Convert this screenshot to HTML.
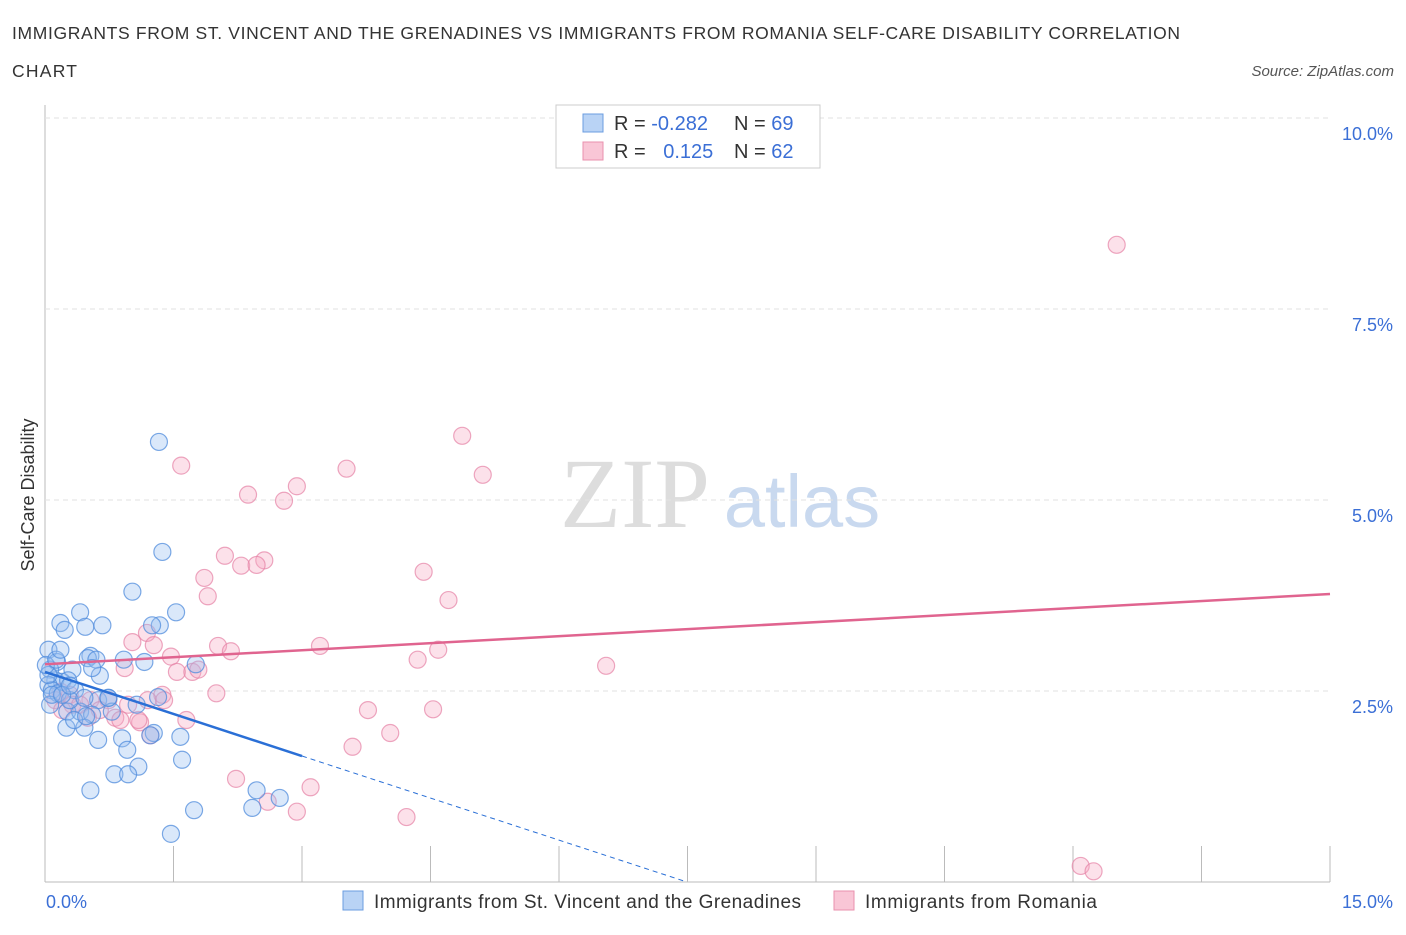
<!DOCTYPE html>
<html><head><meta charset="utf-8"><style>
body{margin:0;background:#fff;font-family:"Liberation Sans",sans-serif;}
svg text{font-family:"Liberation Sans",sans-serif;}
</style></head><body>
<svg id="chart" width="1406" height="930">
<text x="12" y="39" font-size="17.5" fill="#333" textLength="1168">IMMIGRANTS FROM ST. VINCENT AND THE GRENADINES VS IMMIGRANTS FROM ROMANIA SELF-CARE DISABILITY CORRELATION</text>
<text x="12" y="77" font-size="17.5" fill="#333" textLength="65">CHART</text>
<text x="1394" y="76" font-size="15" fill="#555" font-style="italic" text-anchor="end">Source: ZipAtlas.com</text>
<text x="635" y="527" font-size="100" fill="#ddd" style="font-family:'Liberation Serif',serif" text-anchor="middle">ZIP</text>
<text x="802" y="527" font-size="74" fill="#c9d9ef" text-anchor="middle">atlas</text>
<text x="34" y="495" font-size="18" fill="#333" text-anchor="middle" transform="rotate(-90 34 495)">Self-Care Disability</text>
<g id="grid"></g><g id="marks"></g>
<g>
<rect x="556" y="105" width="264" height="63" fill="#fff" stroke="#ccc"/>
<rect x="583" y="114" width="20" height="18" fill="#b9d3f5" stroke="#6b9de0"/>
<rect x="583" y="142" width="20" height="18" fill="#f9c6d6" stroke="#e990ae"/>
<text x="614" y="130" font-size="20" fill="#333">R = <tspan fill="#3b6fd6">-0.282</tspan></text>
<text x="734" y="130" font-size="20" fill="#333">N = <tspan fill="#3b6fd6">69</tspan></text>
<text x="614" y="158" font-size="20" fill="#333">R = <tspan fill="#3b6fd6" dx="12">0.125</tspan></text>
<text x="734" y="158" font-size="20" fill="#333">N = <tspan fill="#3b6fd6">62</tspan></text>
</g>
<g>
<rect x="343" y="891" width="20" height="19" fill="#b9d3f5" stroke="#6b9de0"/>
<text x="374" y="908" font-size="19" fill="#333" textLength="427">Immigrants from St. Vincent and the Grenadines</text>
<rect x="834" y="891" width="20" height="19" fill="#f9c6d6" stroke="#e990ae"/>
<text x="865" y="908" font-size="19" fill="#333" textLength="232">Immigrants from Romania</text>
</g>
</svg>
<script>
const yTicks=[2.5,5.0,7.5,10.0];
const xTickCount=10;
const blueX=[1.33,1.37,1.02,0.41,0.18,0.23,0.47,0.67,1.53,1.34,1.25,0.04,0.14,0.53,0.50,0.60,0.92,1.16,1.76,0.06,0.32,0.64,0.12,0.20,0.27,0.04,0.08,0.15,0.35,0.62,0.74,1.07,1.32,0.06,0.26,0.41,0.55,0.78,0.25,0.46,0.62,0.90,1.27,1.58,0.96,1.09,0.81,0.97,1.60,0.53,1.74,2.42,2.47,2.74,1.47,0.04,0.08,0.29,0.46,0.34,1.23,0.20,0.29,0.01,0.13,0.48,0.55,0.18,0.74];
const blueY=[5.76,4.32,3.80,3.53,3.39,3.30,3.34,3.36,3.53,3.36,3.36,3.04,2.88,2.96,2.93,2.91,2.91,2.88,2.85,2.78,2.78,2.70,2.64,2.62,2.64,2.58,2.51,2.47,2.51,2.38,2.41,2.32,2.42,2.32,2.23,2.23,2.19,2.23,2.02,2.02,1.86,1.88,1.95,1.90,1.73,1.51,1.41,1.41,1.60,1.20,0.94,0.97,1.20,1.10,0.63,2.71,2.45,2.38,2.41,2.12,1.92,2.45,2.57,2.84,2.91,2.17,2.80,3.04,2.41];
const pinkX=[12.51,4.87,1.59,3.52,5.11,2.37,2.94,2.79,2.10,2.56,2.29,2.47,1.86,4.42,1.90,4.71,1.19,1.02,1.27,2.02,2.17,3.21,4.59,1.47,0.93,1.54,1.72,1.79,4.35,6.55,1.37,2.00,0.74,0.53,0.29,0.18,0.12,0.32,0.97,1.20,1.39,0.64,0.82,1.11,1.65,3.77,4.53,1.09,0.88,4.03,3.59,1.23,2.23,3.10,2.60,2.94,4.22,12.09,12.24,0.20,0.41,0.50];
const pinkY=[8.34,5.84,5.45,5.41,5.33,5.07,5.18,4.99,4.27,4.21,4.14,4.15,3.98,4.06,3.74,3.69,3.26,3.14,3.10,3.09,3.02,3.09,3.04,2.95,2.80,2.75,2.75,2.78,2.91,2.83,2.45,2.47,2.38,2.38,2.45,2.49,2.38,2.32,2.32,2.38,2.38,2.25,2.15,2.09,2.12,2.25,2.26,2.12,2.12,1.95,1.77,1.92,1.35,1.24,1.05,0.92,0.85,0.21,0.14,2.25,2.32,2.15];
const blueTrend=[2.75,-0.367];
const pinkTrend=[2.85,0.0613];
const X=v=>45+v*(1285/15), Y=v=>882-v*76.4;
const NS='http://www.w3.org/2000/svg';
function mk(t,a,p){const e=document.createElementNS(NS,t);for(const k in a)e.setAttribute(k,a[k]);p.appendChild(e);return e;}
const g=document.getElementById('grid'), m=document.getElementById('marks');
mk('line',{x1:45,y1:105,x2:45,y2:882,stroke:'#bbb'},g);
mk('line',{x1:45,y1:882,x2:1330,y2:882,stroke:'#bbb'},g);
for(const t of yTicks){
 const l=mk('line',{x1:45,y1:Y(t),x2:1330,y2:Y(t),stroke:'#e2e2e2','stroke-dasharray':'5,4'},g);
 
 
 const tx=mk('text',{x:1393,y:Y(t)+22,'font-size':18,fill:'#3b6fd6','text-anchor':'end'},g);
 tx.textContent=t.toFixed(1)+'%';
 
 
}
for(let i=1;i<=xTickCount;i++){
 const xx=X(i*1.5);
 const l=mk('line',{x1:xx,y1:846,x2:xx,y2:882,stroke:'#bbb'},g);
 
 
}
const xl0=mk('text',{x:46,y:908,'font-size':18,fill:'#3b6fd6'},g);xl0.textContent='0.0%';


const xl1=mk('text',{x:1393,y:908,'font-size':18,fill:'#3b6fd6','text-anchor':'end'},g);xl1.textContent='15.0%';


for(let i=0;i<pinkX.length;i++){
 const c=mk('circle',{cx:X(pinkX[i]),cy:Y(pinkY[i]),r:8.5,fill:'rgba(245,170,195,0.35)',stroke:'rgba(230,130,165,0.7)','stroke-width':1.2},m);
 
 
}
for(let i=0;i<blueX.length;i++){
 const c=mk('circle',{cx:X(blueX[i]),cy:Y(blueY[i]),r:8.5,fill:'rgba(150,190,240,0.35)',stroke:'rgba(80,140,220,0.75)','stroke-width':1.2},m);
 
 
}
const pt=mk('line',{x1:X(0),y1:Y(pinkTrend[0]),x2:X(15),y2:Y(pinkTrend[0]+15*pinkTrend[1]),stroke:'#e0648f','stroke-width':2.5},m);


const bt=mk('line',{x1:X(0),y1:Y(blueTrend[0]),x2:X(3),y2:Y(blueTrend[0]+3*blueTrend[1]),stroke:'#2a6fd6','stroke-width':2.5},m);


const xEnd=-blueTrend[0]/blueTrend[1];
const bd=mk('line',{x1:X(3),y1:Y(blueTrend[0]+3*blueTrend[1]),x2:X(xEnd),y2:Y(0),stroke:'#2a6fd6','stroke-width':1,'stroke-dasharray':'5,4'},m);


</script>
</body></html>
